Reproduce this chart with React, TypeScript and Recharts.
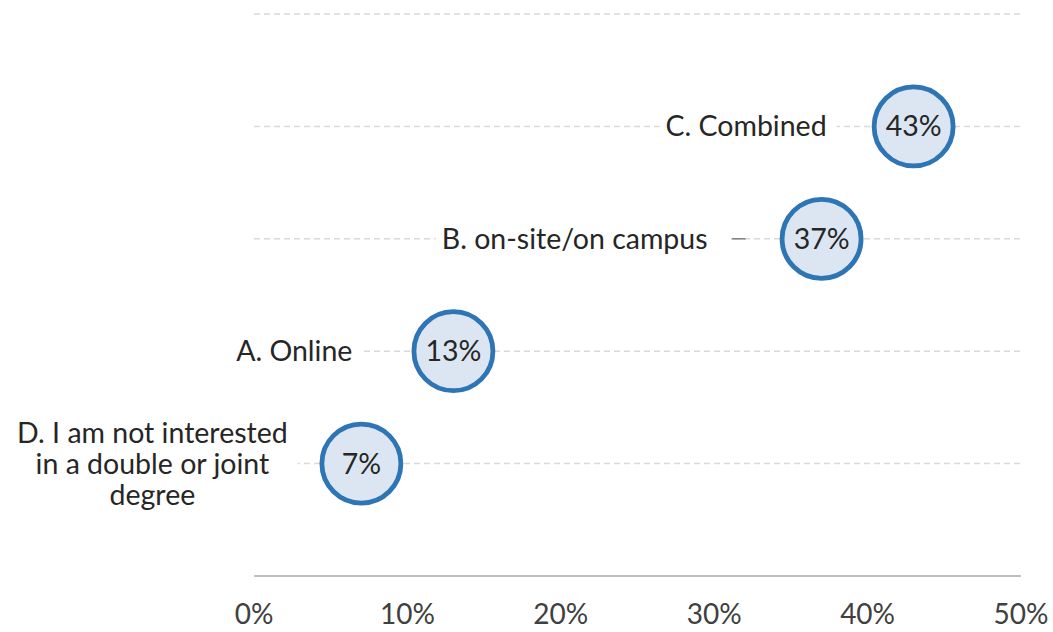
import React from 'react';
import { ScatterChart, Scatter, XAxis, YAxis, CartesianGrid } from 'recharts';

// Survey answers, top row first; "\n" marks a line break in the label
const categories = [
  'C. Combined',
  'B. on-site/on campus',
  'A. Online',
  'D. I am not interested\nin a double or joint\ndegree',
];
const shares = [43, 37, 13, 7];
const xTicks = [0, 10, 20, 30, 40, 50];
const rowTicks = [0, 1, 2, 3, 4, 5];

const FONT = "Lato, 'Open Sans', sans-serif";
const FS = 28.5;
const TICK_FS = 28;
const LINE_H = 31;
const TEXT = '#262626';

// Where each category label sits relative to its bubble centre
const LABEL_LAYOUT = [
  { anchor: 'end', dx: -87, leader: false },
  { anchor: 'end', dx: -114, leader: true },
  { anchor: 'end', dx: -101, leader: false },
  { anchor: 'middle', dx: -209, leader: false },
];

const data = categories.map((name, i) => ({
  name,
  value: shares[i],
  row: categories.length - i,
  idx: i,
}));

let ctx: CanvasRenderingContext2D | null = null;
function textWidth(s: string): number {
  if (!ctx && typeof document !== 'undefined') {
    ctx = document.createElement('canvas').getContext('2d');
  }
  if (!ctx) return s.length * FS * 0.5;
  ctx.font = `${FS}px ${FONT}`;
  return ctx.measureText(s).width;
}

const Bubble = (props: any) => {
  const { cx, cy, payload } = props;
  if (cx == null || cy == null) return null;
  const layout = LABEL_LAYOUT[payload.idx];
  const lines: string[] = payload.name.split('\n');
  const widths = lines.map(textWidth);
  const maxW = Math.max(...widths);
  const ax = cx + layout.dx;
  let left: number;
  let right: number;
  if (layout.anchor === 'end') {
    left = ax - maxW;
    right = ax;
  } else {
    left = ax - maxW / 2;
    right = ax + maxW / 2;
  }
  const blockH = lines.length * LINE_H;
  const top = cy - blockH / 2;
  const leaderStart = right + 24;
  const bgRight = layout.leader ? leaderStart : right + 10;
  const r = 39.5;
  return (
    <g>
      <rect x={left - 6} y={top - 2} width={bgRight - left + 6} height={blockH + 4} fill="#ffffff" />
      <text
        x={ax}
        y={cy - ((lines.length - 1) * LINE_H) / 2}
        textAnchor={layout.anchor}
        fontFamily={FONT}
        fontSize={FS}
        fill={TEXT}
      >
        {lines.map((ln, i) => (
          <tspan key={i} x={ax} dy={i === 0 ? '0.35em' : LINE_H}>
            {ln}
          </tspan>
        ))}
      </text>
      {layout.leader && (
        <line x1={leaderStart} y1={cy} x2={leaderStart + 14} y2={cy} stroke="#7f7f7f" strokeWidth={1.5} />
      )}
      <circle cx={cx} cy={cy} r={r} fill="#dce6f2" stroke="#2e75b6" strokeWidth={4.8} />
      <text x={cx} y={cy} dy="0.35em" textAnchor="middle" fontFamily={FONT} fontSize={FS} fill={TEXT}>
        {`${payload.value}%`}
      </text>
    </g>
  );
};

export default function App() {
  return (
    <div style={{ position: 'absolute', left: 0, top: 0, width: 1053, height: 632, background: '#ffffff' }}>
      <ScatterChart width={1053} height={632} margin={{ top: 14, right: 32, bottom: 0, left: 254 }}>
        <CartesianGrid vertical={false} stroke="#d9d9d9" strokeDasharray="6 4" strokeWidth={1.5} />
        <XAxis
          type="number"
          dataKey="value"
          domain={[0, 50]}
          ticks={xTicks}
          interval={0}
          tickFormatter={(v: number) => `${v}%`}
          axisLine={{ stroke: '#bfbfbf', strokeWidth: 2 }}
          tickLine={false}
          tickSize={6}
          tickMargin={22}
          height={56}
          tick={{ fill: '#404040', fontSize: TICK_FS, fontFamily: FONT }}
        />
        <YAxis type="number" dataKey="row" domain={[0, 5]} ticks={rowTicks} hide />
        <Scatter data={data} shape={Bubble} isAnimationActive={false} />
      </ScatterChart>
    </div>
  );
}
